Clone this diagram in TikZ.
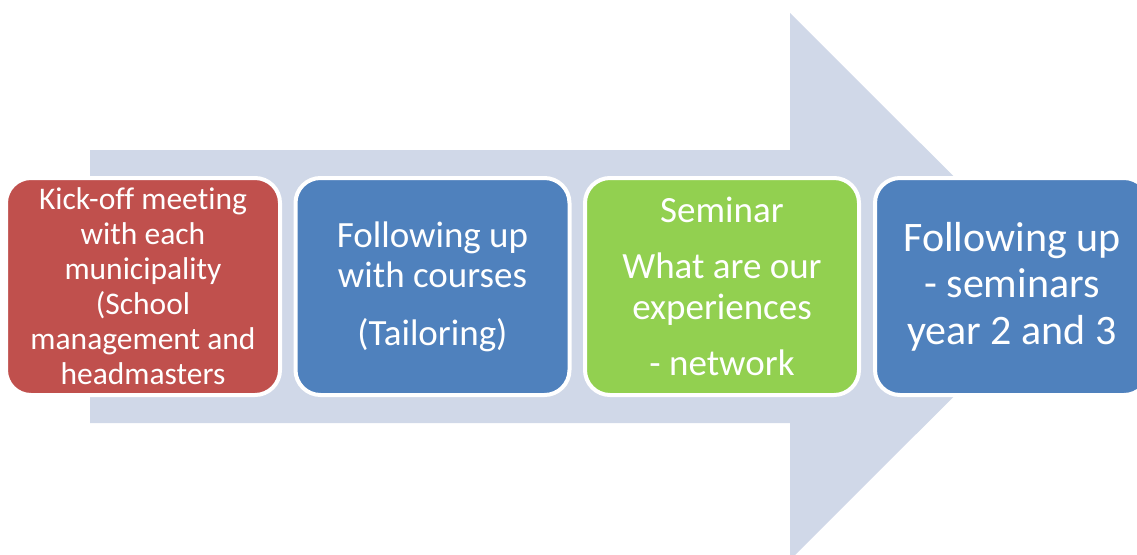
\documentclass[tikz,border=0pt]{standalone}
\usepackage{fontspec}
\setmainfont{Carlito}[Ligatures=NoCommon]
\definecolor{arrowc}{HTML}{D0D8E8}
\definecolor{redc}{HTML}{C0504D}
\definecolor{bluec}{HTML}{4F81BD}
\definecolor{greenc}{HTML}{92D050}
\begin{document}
\begin{tikzpicture}[x=1pt,y=-1pt,
  box/.style={draw=white, line width=4pt, rounded corners=25pt,
    minimum width=274pt, minimum height=217pt, text=white,
    align=center, inner sep=0pt}]
\useasboundingbox (0,0) rectangle (1137,554);
\clip (0,0) rectangle (1137,554);
\fill[arrowc] (90,150) -- (790,150) -- (790,13) -- (1064,286.5) -- (790,560)
  -- (790,423) -- (90,423) -- cycle;
\node[box, fill=redc, font=\fontsize{31.5}{35}\selectfont] (k) at (143,286.5)
  {Kick-off meeting\\with each\\municipality\\(School\\management and\\headmasters};
\node[box, fill=bluec, font=\fontsize{37}{40}\selectfont] (f) at (432.5,286.5)
  {Following up\\with courses\\[18pt](Tailoring)};
\node[box, fill=greenc, font=\fontsize{37}{41}\selectfont] (s) at (722,286.5)
  {Seminar\\[15pt]What are our\\experiences\\[15pt]- network};
\node[box, fill=bluec, font=\fontsize{42}{46.5}\selectfont] (y) at (1012,286.5)
  {Following up\\- seminars\\year 2 and 3};
\end{tikzpicture}
\end{document}
